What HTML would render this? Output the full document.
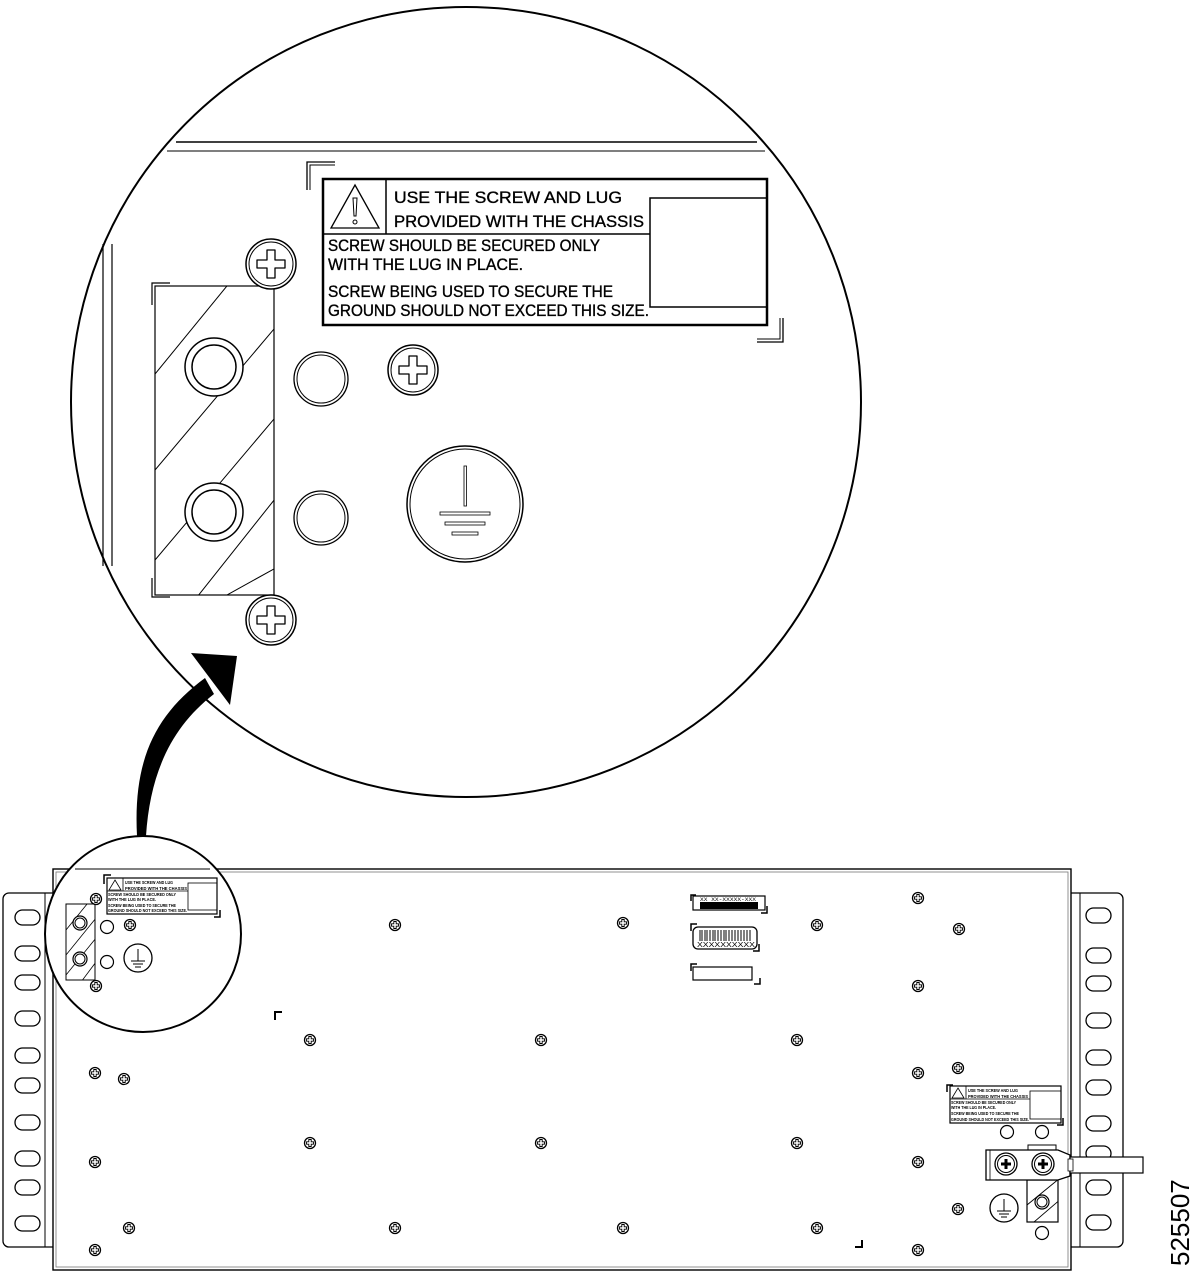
<!DOCTYPE html>
<html><head><meta charset="utf-8"><style>
html,body{margin:0;padding:0;background:#fff;}
svg{display:block;}
</style></head><body>
<svg width="1200" height="1278" viewBox="0 0 1200 1278" xmlns="http://www.w3.org/2000/svg" font-family="Liberation Sans, sans-serif">
<defs>
  <g id="sm">
    <circle r="5.5" fill="#fff" stroke="#000" stroke-width="1.3"/>
    <path d="M-1.2,-3.5 h2.4 v2.3 h2.3 v2.4 h-2.3 v2.3 h-2.4 v-2.3 h-2.3 v-2.4 h2.3z" fill="none" stroke="#000" stroke-width="0.9"/>
  </g>
  <g id="bg">
    <circle r="25" fill="#fff" stroke="#000" stroke-width="1.5"/>
    <circle r="22" fill="none" stroke="#000" stroke-width="1"/>
    <path d="M-4,-14 h8 v10 h10 v8 h-10 v10 h-8 v-10 h-10 v-8 h10z" fill="none" stroke="#000" stroke-width="1.3" stroke-linejoin="round"/>
  </g>
  <clipPath id="plateClip"><rect x="155" y="286" width="119" height="309"/></clipPath>
  <clipPath id="smallPlate"><rect x="66" y="904" width="29" height="76"/></clipPath>
  <clipPath id="rPlate"><rect x="1027" y="1180" width="31" height="42"/></clipPath>
</defs>

<!-- ===== Big magnified circle ===== -->
<circle cx="466" cy="402" r="395" fill="#fff" stroke="#000" stroke-width="2"/>
<line x1="176" y1="142" x2="757" y2="142" stroke="#000" stroke-width="1.5"/>
<line x1="167" y1="151" x2="765" y2="151" stroke="#555" stroke-width="1.5"/>
<line x1="103" y1="244" x2="103" y2="566" stroke="#000" stroke-width="1.2"/>
<line x1="112" y1="244" x2="112" y2="566" stroke="#000" stroke-width="1.2"/>

<!-- label big -->
<path d="M307,190 V162 H335" fill="none" stroke="#000" stroke-width="1.3"/>
<path d="M310,190 V165 H335" fill="none" stroke="#000" stroke-width="1"/>
<path d="M783,318 V342 H757" fill="none" stroke="#000" stroke-width="1.3"/>
<path d="M780,318 V339 H757" fill="none" stroke="#000" stroke-width="1"/>
<rect x="323" y="179" width="444" height="146" fill="#fff" stroke="#000" stroke-width="2.5"/>
<line x1="386" y1="179" x2="386" y2="234" stroke="#000" stroke-width="1.5"/>
<line x1="323" y1="234" x2="650" y2="234" stroke="#000" stroke-width="1.5"/>
<rect x="650" y="198" width="117" height="109" fill="none" stroke="#000" stroke-width="1.5"/>
<path d="M355,185 L379,228 H331Z" fill="none" stroke="#000" stroke-width="1.3"/>
<path d="M353,198 h4 l-1,18 h-2z" fill="none" stroke="#000" stroke-width="1"/>
<circle cx="355" cy="222" r="2" fill="none" stroke="#000" stroke-width="1"/>
<g font-size="16.5" fill="#000" stroke="#000" stroke-width="0.35">
  <text x="394" y="203" textLength="228" lengthAdjust="spacingAndGlyphs">USE  THE  SCREW  AND  LUG</text>
  <text x="394" y="227" textLength="250" lengthAdjust="spacingAndGlyphs">PROVIDED  WITH  THE  CHASSIS</text>
  <text x="328" y="251" textLength="272" lengthAdjust="spacingAndGlyphs">SCREW  SHOULD  BE  SECURED  ONLY</text>
  <text x="328" y="270" textLength="195" lengthAdjust="spacingAndGlyphs">WITH  THE  LUG  IN  PLACE.</text>
  <text x="328" y="297" textLength="285" lengthAdjust="spacingAndGlyphs">SCREW  BEING  USED  TO  SECURE  THE</text>
  <text x="328" y="316" textLength="321" lengthAdjust="spacingAndGlyphs">GROUND  SHOULD  NOT  EXCEED  THIS  SIZE.</text>
</g>

<!-- plate -->
<rect x="155" y="286" width="119" height="309" fill="#fff" stroke="#000" stroke-width="1.2"/>
<g clip-path="url(#plateClip)" stroke="#000" stroke-width="1">
  <line x1="155" y1="374" x2="240" y2="270"/>
  <line x1="155" y1="470" x2="290" y2="310"/>
  <line x1="155" y1="560" x2="290" y2="400"/>
  <line x1="155" y1="650" x2="290" y2="480"/>
  <line x1="200" y1="610" x2="290" y2="560"/>
</g>
<path d="M152,305 V283 H170" fill="none" stroke="#000" stroke-width="1.2"/>
<path d="M152,578 V597 H170" fill="none" stroke="#000" stroke-width="1.2"/>
<circle cx="214" cy="367" r="29" fill="#fff" stroke="#000" stroke-width="1.5"/>
<circle cx="214" cy="367" r="22" fill="#fff" stroke="#000" stroke-width="1.5"/>
<circle cx="214" cy="512" r="29" fill="#fff" stroke="#000" stroke-width="1.5"/>
<circle cx="214" cy="512" r="22" fill="#fff" stroke="#000" stroke-width="1.5"/>
<circle cx="321" cy="379" r="27" fill="#fff" stroke="#000" stroke-width="1.3"/>
<circle cx="321" cy="379" r="24" fill="none" stroke="#000" stroke-width="1"/>
<circle cx="321" cy="518" r="27" fill="#fff" stroke="#000" stroke-width="1.3"/>
<circle cx="321" cy="518" r="24" fill="none" stroke="#000" stroke-width="1"/>
<use href="#bg" x="271" y="264"/>
<use href="#bg" x="271" y="620"/>
<use href="#bg" x="413" y="370"/>
<circle cx="465" cy="504" r="58" fill="#fff" stroke="#000" stroke-width="1.5"/>
<circle cx="465" cy="504" r="55" fill="none" stroke="#000" stroke-width="1"/>
<rect x="464" y="466" width="2.5" height="40" fill="none" stroke="#000" stroke-width="0.8"/>
<rect x="440" y="512" width="50" height="3" fill="none" stroke="#000" stroke-width="0.8"/>
<rect x="445" y="522" width="40" height="3" fill="none" stroke="#000" stroke-width="0.8"/>
<rect x="452" y="532" width="26" height="3" fill="none" stroke="#000" stroke-width="0.8"/>

<!-- arrow -->
<path d="M137,836 C133,760 155,715 205,678 L214,694 C170,728 150,775 146,836 Z" fill="#000"/>
<path d="M191,653 L237,656 L230,705 Z" fill="#000"/>

<!-- ===== Chassis ===== -->
<!-- left ear -->
<rect x="3" y="893" width="55" height="354" rx="6" fill="#fff" stroke="#000" stroke-width="1.3"/>
<line x1="45" y1="893" x2="45" y2="1247" stroke="#000" stroke-width="1"/>
<g fill="none" stroke="#000" stroke-width="1.3">
  <rect x="15" y="910" width="25" height="15" rx="7.5"/>
  <rect x="15" y="946" width="25" height="15" rx="7.5"/>
  <rect x="15" y="975" width="25" height="15" rx="7.5"/>
  <rect x="15" y="1011" width="25" height="15" rx="7.5"/>
  <rect x="15" y="1048" width="25" height="15" rx="7.5"/>
  <rect x="15" y="1078" width="25" height="15" rx="7.5"/>
  <rect x="15" y="1115" width="25" height="15" rx="7.5"/>
  <rect x="15" y="1151" width="25" height="15" rx="7.5"/>
  <rect x="15" y="1180" width="25" height="15" rx="7.5"/>
  <rect x="15" y="1216" width="25" height="15" rx="7.5"/>
</g>
<!-- right ear -->
<rect x="1066" y="893" width="57" height="354" rx="6" fill="#fff" stroke="#000" stroke-width="1.3"/>
<line x1="1080" y1="893" x2="1080" y2="1247" stroke="#000" stroke-width="1"/>
<g fill="none" stroke="#000" stroke-width="1.3">
  <rect x="1086" y="908" width="25" height="15" rx="7.5"/>
  <rect x="1086" y="948" width="25" height="15" rx="7.5"/>
  <rect x="1086" y="976" width="25" height="15" rx="7.5"/>
  <rect x="1086" y="1013" width="25" height="15" rx="7.5"/>
  <rect x="1086" y="1050" width="25" height="15" rx="7.5"/>
  <rect x="1086" y="1080" width="25" height="15" rx="7.5"/>
  <rect x="1086" y="1116" width="25" height="15" rx="7.5"/>
  <rect x="1086" y="1146" width="25" height="15" rx="7.5"/>
  <rect x="1086" y="1180" width="25" height="15" rx="7.5"/>
  <rect x="1086" y="1215" width="25" height="15" rx="7.5"/>
</g>
<!-- body -->
<rect x="53" y="869" width="1018" height="401" fill="#fff" stroke="#000" stroke-width="1.4"/>
<rect x="56" y="872" width="1012" height="395" fill="none" stroke="#777" stroke-width="0.8"/>

<!-- screws -->
<use href="#sm" x="395" y="925"/><use href="#sm" x="623" y="923"/>
<use href="#sm" x="918" y="898"/><use href="#sm" x="817" y="925"/>
<use href="#sm" x="959" y="929"/><use href="#sm" x="918" y="986"/>
<use href="#sm" x="310" y="1040"/><use href="#sm" x="541" y="1040"/>
<use href="#sm" x="797" y="1040"/><use href="#sm" x="918" y="1073"/>
<use href="#sm" x="958" y="1068"/><use href="#sm" x="95" y="1073"/>
<use href="#sm" x="124" y="1079"/><use href="#sm" x="310" y="1143"/>
<use href="#sm" x="541" y="1143"/><use href="#sm" x="797" y="1143"/>
<use href="#sm" x="95" y="1162"/><use href="#sm" x="918" y="1162"/>
<use href="#sm" x="129" y="1228"/><use href="#sm" x="395" y="1228"/>
<use href="#sm" x="623" y="1228"/><use href="#sm" x="817" y="1228"/>
<use href="#sm" x="958" y="1209"/><use href="#sm" x="95" y="1250"/>
<use href="#sm" x="918" y="1250"/>
<path d="M275,1020 V1012 H282" fill="none" stroke="#000" stroke-width="2"/>
<path d="M862,1240 V1247 H855" fill="none" stroke="#000" stroke-width="2"/>

<!-- middle labels -->
<path d="M691,901 V895 H696" fill="none" stroke="#000" stroke-width="1.5"/>
<rect x="693" y="896" width="72" height="14" fill="#fff" stroke="#000" stroke-width="1.2"/>
<rect x="700" y="902" width="58" height="7" fill="#000"/>
<text x="700" y="901" font-size="5" font-family="Liberation Mono, monospace" textLength="56" lengthAdjust="spacingAndGlyphs">XX XX-XXXXX-XXX</text>
<path d="M767,906 V913 H761" fill="none" stroke="#000" stroke-width="1.5"/>
<path d="M691,931 V924 H697" fill="none" stroke="#000" stroke-width="1.5"/>
<rect x="693" y="927" width="64" height="22" rx="5" fill="#fff" stroke="#000" stroke-width="1.3"/>
<g stroke="#000" stroke-width="1">
  <line x1="700" y1="930" x2="700" y2="941"/><line x1="702" y1="930" x2="702" y2="941"/><line x1="705" y1="930" x2="705" y2="941"/><line x1="707" y1="930" x2="707" y2="941"/><line x1="710" y1="930" x2="710" y2="941"/><line x1="713" y1="930" x2="713" y2="941"/><line x1="715" y1="930" x2="715" y2="941"/><line x1="718" y1="930" x2="718" y2="941"/><line x1="721" y1="930" x2="721" y2="941"/><line x1="724" y1="930" x2="724" y2="941"/><line x1="726" y1="930" x2="726" y2="941"/><line x1="729" y1="930" x2="729" y2="941"/><line x1="732" y1="930" x2="732" y2="941"/><line x1="735" y1="930" x2="735" y2="941"/><line x1="738" y1="930" x2="738" y2="941"/><line x1="741" y1="930" x2="741" y2="941"/><line x1="744" y1="930" x2="744" y2="941"/><line x1="747" y1="930" x2="747" y2="941"/><line x1="750" y1="930" x2="750" y2="941"/>
</g>
<text x="697" y="947" font-size="7" textLength="58" lengthAdjust="spacingAndGlyphs">XXXXXXXXXX</text>
<path d="M759,944 V951 H753" fill="none" stroke="#000" stroke-width="1.5"/>
<path d="M691,971 V964 H697" fill="none" stroke="#000" stroke-width="1.5"/>
<rect x="693" y="967" width="59" height="13" fill="#fff" stroke="#000" stroke-width="1.2"/>
<path d="M760,978 V984 H754" fill="none" stroke="#000" stroke-width="1.5"/>

<!-- right label -->
<path d="M947,1092 V1085 H953" fill="none" stroke="#000" stroke-width="1.5"/>
<rect x="950" y="1086" width="111" height="37" fill="#fff" stroke="#000" stroke-width="1.2"/>
<line x1="966" y1="1086" x2="966" y2="1099" stroke="#000" stroke-width="0.8"/>
<line x1="950" y1="1099" x2="1030" y2="1099" stroke="#000" stroke-width="0.8"/>
<rect x="1030" y="1091" width="31" height="28" fill="none" stroke="#000" stroke-width="0.8"/>
<path d="M958,1088 L964,1098 H952Z" fill="none" stroke="#000" stroke-width="0.8"/>
<g font-size="4.2" font-weight="bold">
  <text x="968" y="1092" textLength="50" lengthAdjust="spacingAndGlyphs">USE THE SCREW AND LUG</text>
  <text x="968" y="1098" textLength="60" lengthAdjust="spacingAndGlyphs">PROVIDED WITH THE CHASSIS</text>
  <text x="951" y="1104" textLength="65" lengthAdjust="spacingAndGlyphs">SCREW SHOULD BE SECURED ONLY</text>
  <text x="951" y="1109" textLength="45" lengthAdjust="spacingAndGlyphs">WITH THE LUG IN PLACE.</text>
  <text x="951" y="1115" textLength="68" lengthAdjust="spacingAndGlyphs">SCREW BEING USED TO SECURE THE</text>
  <text x="951" y="1121" textLength="78" lengthAdjust="spacingAndGlyphs">GROUND SHOULD NOT EXCEED THIS SIZE.</text>
</g>
<path d="M1063,1118 V1125 H1057" fill="none" stroke="#000" stroke-width="1.5"/>
<circle cx="1007" cy="1132" r="6.5" fill="#fff" stroke="#000" stroke-width="1.2"/>
<circle cx="1042" cy="1132" r="6.5" fill="#fff" stroke="#000" stroke-width="1.2"/>

<!-- right plate + lug -->
<rect x="1027" y="1180" width="31" height="42" fill="#fff" stroke="#000" stroke-width="1.2"/>
<g clip-path="url(#rPlate)" stroke="#000" stroke-width="0.9">
  <line x1="1027" y1="1205" x2="1060" y2="1178"/>
  <line x1="1027" y1="1228" x2="1062" y2="1198"/>
</g>
<circle cx="1042" cy="1202" r="7" fill="#fff" stroke="#000" stroke-width="1.2"/>
<circle cx="1042" cy="1202" r="5" fill="none" stroke="#000" stroke-width="1"/>
<circle cx="1042" cy="1233" r="6.5" fill="#fff" stroke="#000" stroke-width="1.2"/>
<circle cx="1004" cy="1208" r="14" fill="#fff" stroke="#000" stroke-width="1.3"/>
<line x1="1004" y1="1199" x2="1004" y2="1211" stroke="#000" stroke-width="1"/>
<line x1="997" y1="1211" x2="1011" y2="1211" stroke="#000" stroke-width="1"/>
<line x1="999" y1="1214" x2="1009" y2="1214" stroke="#000" stroke-width="1"/>
<line x1="1001" y1="1217" x2="1007" y2="1217" stroke="#000" stroke-width="1"/>
<rect x="1028" y="1145" width="28" height="6" fill="#fff" stroke="#000" stroke-width="1"/>
<path d="M986,1150 H1058 L1070,1155 V1176 L1058,1180 H986Z" fill="#fff" stroke="#000" stroke-width="1.3"/>
<line x1="990" y1="1150" x2="990" y2="1180" stroke="#000" stroke-width="0.8"/>
<rect x="1070" y="1157" width="73" height="16" fill="#fff" stroke="#000" stroke-width="1.2"/>
<rect x="1068" y="1159" width="5" height="12" fill="#fff" stroke="#000" stroke-width="0.8"/>
<g>
  <circle cx="1006" cy="1164" r="11" fill="#fff" stroke="#000" stroke-width="1.3"/>
  <circle cx="1006" cy="1164" r="8.5" fill="none" stroke="#000" stroke-width="1"/>
  <path d="M1004.5,1159 h3 v3.5 h3.5 v3 h-3.5 v3.5 h-3 v-3.5 h-3.5 v-3 h3.5z" fill="#000"/>
  <circle cx="1043" cy="1164" r="11" fill="#fff" stroke="#000" stroke-width="1.3"/>
  <circle cx="1043" cy="1164" r="8.5" fill="none" stroke="#000" stroke-width="1"/>
  <path d="M1041.5,1159 h3 v3.5 h3.5 v3 h-3.5 v3.5 h-3 v-3.5 h-3.5 v-3 h3.5z" fill="#000"/>
</g>

<!-- ===== small magnifier circle ===== -->
<circle cx="143" cy="934" r="98" fill="#fff" stroke="#000" stroke-width="2"/>
<line x1="75" y1="869" x2="210" y2="869" stroke="#000" stroke-width="1"/>
<path d="M104,884 V875 H111" fill="none" stroke="#000" stroke-width="1.5"/>
<rect x="107" y="878" width="110" height="36" fill="#fff" stroke="#000" stroke-width="1.2"/>
<line x1="123" y1="878" x2="123" y2="891" stroke="#000" stroke-width="0.8"/>
<line x1="107" y1="891" x2="188" y2="891" stroke="#000" stroke-width="0.8"/>
<rect x="188" y="883" width="29" height="27" fill="none" stroke="#000" stroke-width="0.8"/>
<path d="M115,880 L121,890 H109Z" fill="none" stroke="#000" stroke-width="0.8"/>
<g font-size="4.2" font-weight="bold">
  <text x="125" y="884" textLength="48" lengthAdjust="spacingAndGlyphs">USE THE SCREW AND LUG</text>
  <text x="125" y="890" textLength="62" lengthAdjust="spacingAndGlyphs">PROVIDED WITH THE CHASSIS</text>
  <text x="108" y="896" textLength="68" lengthAdjust="spacingAndGlyphs">SCREW SHOULD BE SECURED ONLY</text>
  <text x="108" y="901" textLength="48" lengthAdjust="spacingAndGlyphs">WITH THE LUG IN PLACE.</text>
  <text x="108" y="907" textLength="68" lengthAdjust="spacingAndGlyphs">SCREW BEING USED TO SECURE THE</text>
  <text x="108" y="912" textLength="79" lengthAdjust="spacingAndGlyphs">GROUND SHOULD NOT EXCEED THIS SIZE.</text>
</g>
<path d="M220,910 V917 H214" fill="none" stroke="#000" stroke-width="1.5"/>
<rect x="66" y="904" width="29" height="76" fill="#fff" stroke="#000" stroke-width="1"/>
<g clip-path="url(#smallPlate)" stroke="#000" stroke-width="0.8">
  <line x1="66" y1="930" x2="96" y2="893"/>
  <line x1="66" y1="955" x2="96" y2="918"/>
  <line x1="66" y1="975" x2="96" y2="938"/>
  <line x1="75" y1="990" x2="96" y2="962"/>
</g>
<circle cx="80" cy="923" r="7" fill="#fff" stroke="#000" stroke-width="1.2"/>
<circle cx="80" cy="923" r="5" fill="none" stroke="#000" stroke-width="1"/>
<circle cx="80" cy="959" r="7" fill="#fff" stroke="#000" stroke-width="1.2"/>
<circle cx="80" cy="959" r="5" fill="none" stroke="#000" stroke-width="1"/>
<circle cx="107" cy="927" r="6.5" fill="#fff" stroke="#000" stroke-width="1.2"/>
<circle cx="107" cy="962" r="6.5" fill="#fff" stroke="#000" stroke-width="1.2"/>
<use href="#sm" x="96" y="899"/><use href="#sm" x="96" y="986"/><use href="#sm" x="130" y="925"/>
<circle cx="138" cy="958" r="14" fill="#fff" stroke="#000" stroke-width="1.3"/>
<line x1="138" y1="949" x2="138" y2="961" stroke="#000" stroke-width="1"/>
<line x1="131" y1="961" x2="145" y2="961" stroke="#000" stroke-width="1"/>
<line x1="133" y1="964" x2="143" y2="964" stroke="#000" stroke-width="1"/>
<line x1="135" y1="967" x2="141" y2="967" stroke="#000" stroke-width="1"/>

<!-- figure number -->
<text transform="translate(1189,1266) rotate(-90)" font-size="26" fill="#000">525507</text>
</svg>
</body></html>
